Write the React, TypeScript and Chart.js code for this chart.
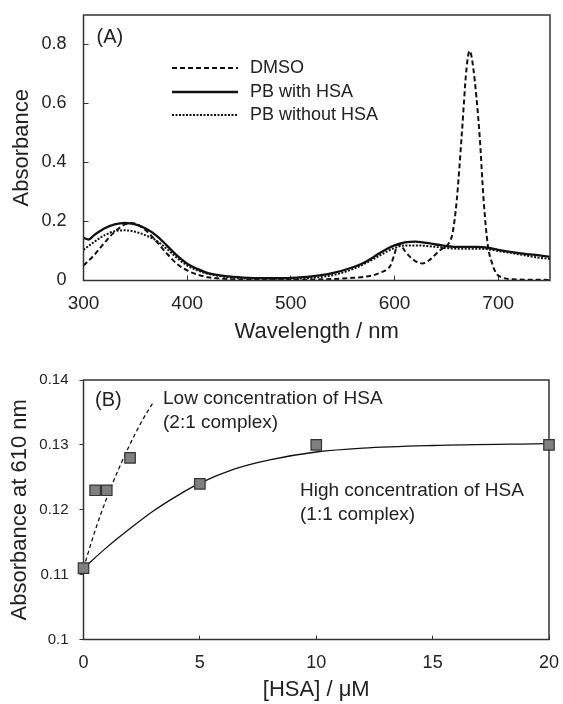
import { useEffect, useRef } from "react";
import { Chart, registerables } from "chart.js";

Chart.register(...registerables);

const FONT = "'Liberation Sans', Arial, Helvetica, sans-serif";
const INK = "#222";
const AXIS = "#333";

// ---------- Panel (A): absorption spectra ----------
const dmsoWavelength = [300, 310, 320, 330, 340, 345, 350, 360, 370, 380, 390, 400, 410, 420, 440, 460, 500, 540, 560, 580, 586, 592, 596, 600, 603, 606, 610, 615, 620, 627, 634, 640, 646, 650, 653, 656, 660, 665, 669.5, 672.5, 676, 682, 686, 690, 694, 698, 704, 714, 750];
const dmsoAbsorbance = [0.051, 0.085, 0.127, 0.165, 0.19, 0.195, 0.193, 0.17, 0.134, 0.093, 0.057, 0.034, 0.02, 0.011, 0.005, 0.002, 0.002, 0.005, 0.009, 0.018, 0.026, 0.036, 0.05, 0.09, 0.122, 0.12, 0.1, 0.08, 0.066, 0.058, 0.07, 0.09, 0.108, 0.116, 0.13, 0.16, 0.27, 0.5, 0.72, 0.778, 0.72, 0.496, 0.271, 0.12, 0.06, 0.025, 0.01, 0.004, 0.002];

const withHsaWavelength = [300, 305, 310, 320, 330, 340, 350, 360, 370, 380, 390, 400, 410, 420, 440, 460, 480, 500, 520, 540, 560, 570, 580, 590, 600, 610, 620, 640, 660, 680, 690, 700, 720, 740, 750];
const withHsaAbsorbance = [0.145, 0.139, 0.153, 0.176, 0.19, 0.195, 0.19, 0.176, 0.153, 0.12, 0.085, 0.057, 0.039, 0.025, 0.014, 0.009, 0.008, 0.009, 0.014, 0.025, 0.045, 0.059, 0.08, 0.102, 0.119, 0.129, 0.132, 0.122, 0.114, 0.114, 0.111, 0.104, 0.093, 0.085, 0.08];

const withoutHsaWavelength = [300, 310, 320, 330, 340, 350, 360, 370, 380, 390, 400, 410, 420, 440, 460, 500, 520, 540, 560, 580, 590, 600, 610, 620, 640, 660, 680, 690, 700, 720, 740, 750];
const withoutHsaAbsorbance = [0.104, 0.13, 0.153, 0.167, 0.17, 0.165, 0.153, 0.136, 0.108, 0.077, 0.051, 0.034, 0.023, 0.011, 0.007, 0.006, 0.009, 0.018, 0.039, 0.073, 0.093, 0.11, 0.119, 0.119, 0.114, 0.108, 0.108, 0.106, 0.1, 0.089, 0.077, 0.073];

const aXTicks = [300, 400, 500, 600, 700];
const aXTickLabels = ["300", "400", "500", "600", "700"];
const aYTicks = [0, 0.2, 0.4, 0.6, 0.8];
const aYTickLabels = ["0", "0.2", "0.4", "0.6", "0.8"];
const aLegendLabels = ["DMSO", "PB with HSA", "PB without HSA"];

// ---------- Panel (B): absorbance at 610 nm vs [HSA] ----------
const hsaConc = [0, 0.5, 1, 2, 5, 10, 20];
const abs610 = [0.111, 0.123, 0.123, 0.128, 0.124, 0.13, 0.13];

const fit11Conc = [0, 1, 2, 3, 4, 5, 6.5, 8, 10, 12, 15, 20];
const fit11Abs = [0.111, 0.1142, 0.1171, 0.1198, 0.1221, 0.1241, 0.1263, 0.1277, 0.1289, 0.1295, 0.1299, 0.1302];

const fit21Conc = [0, 0.5, 1, 1.5, 2, 2.5, 3];
const fit21Abs = [0.111, 0.1168, 0.1218, 0.1262, 0.1301, 0.1336, 0.1366];

const bXTicks = [0, 5, 10, 15, 20];
const bXTickLabels = ["0", "5", "10", "15", "20"];
const bYTicks = [0.1, 0.11, 0.12, 0.13, 0.14];
const bYTickLabels = ["0.1", "0.11", "0.12", "0.13", "0.14"];

const zip = (xs: number[], ys: number[]) => xs.map((x, i) => ({ x, y: ys[i] }));

const boxPlugin = {
  id: "frameBox",
  afterDatasetsDraw(chart: any) {
    const { ctx, chartArea: a } = chart;
    ctx.save();
    ctx.strokeStyle = AXIS;
    ctx.lineWidth = 1.5;
    ctx.setLineDash([]);
    ctx.strokeRect(a.left, a.top, a.right - a.left, a.bottom - a.top);
    ctx.restore();
  },
};

function textPlugin(items: { text: string; x: number; y: number; size: number }[], legend?: { labels: string[]; dashes: number[][]; widths: number[]; x1: number; x2: number; tx: number; ys: number[]; size: number }) {
  return {
    id: "annotText",
    afterDraw(chart: any) {
      const ctx = chart.ctx;
      ctx.save();
      ctx.fillStyle = INK;
      ctx.textAlign = "left";
      ctx.textBaseline = "middle";
      for (const it of items) {
        ctx.font = `${it.size}px ${FONT}`;
        ctx.fillText(it.text, it.x, it.y);
      }
      if (legend) {
        legend.labels.forEach((lab, i) => {
          const y = legend.ys[i];
          ctx.beginPath();
          ctx.strokeStyle = "#111";
          ctx.lineWidth = legend.widths[i];
          ctx.setLineDash(legend.dashes[i]);
          ctx.moveTo(legend.x1, y);
          ctx.lineTo(legend.x2, y);
          ctx.stroke();
          ctx.setLineDash([]);
          ctx.font = `${legend.size}px ${FONT}`;
          ctx.fillText(lab, legend.tx, y);
        });
      }
      ctx.restore();
    },
  };
}

function makeAxis(opts: {
  min: number; max: number; ticks: number[]; labels: string[]; fit: number; horizontal: boolean;
  tickSize: number; tickPad: number; tickLen: number; title: string; titlePad: any;
}) {
  return {
    type: "linear",
    min: opts.min,
    max: opts.max,
    afterBuildTicks: (s: any) => { s.ticks = opts.ticks.map((v) => ({ value: v })); },
    afterFit: (s: any) => {
      if (opts.horizontal) s.height = opts.fit; else s.width = opts.fit;
      s.paddingTop = 0;
      s.paddingBottom = 0;
      s.paddingLeft = 0;
      s.paddingRight = 0;
    },
    ticks: {
      autoSkip: false,
      maxRotation: 0,
      padding: opts.tickPad,
      color: INK,
      font: { family: FONT, size: opts.tickSize },
      callback: (_v: any, i: number) => opts.labels[i],
    },
    grid: { drawOnChartArea: false, drawTicks: true, tickLength: opts.tickLen, color: AXIS, lineWidth: 1 },
    border: { display: false },
    title: { display: true, text: opts.title, color: INK, font: { family: FONT, size: 22 }, padding: opts.titlePad },
  };
}

export default function App() {
  const refA = useRef<HTMLCanvasElement>(null);
  const refB = useRef<HTMLCanvasElement>(null);

  useEffect(() => {
    const chartA = new Chart(refA.current as HTMLCanvasElement, {
      type: "scatter",
      data: {
        datasets: [
          { label: aLegendLabels[0], data: zip(dmsoWavelength, dmsoAbsorbance), showLine: true, borderColor: "#111", borderWidth: 2, borderDash: [5, 3], pointRadius: 0, cubicInterpolationMode: "monotone" },
          { label: aLegendLabels[1], data: zip(withHsaWavelength, withHsaAbsorbance), showLine: true, borderColor: "#111", borderWidth: 2.3, pointRadius: 0, cubicInterpolationMode: "monotone" },
          { label: aLegendLabels[2], data: zip(withoutHsaWavelength, withoutHsaAbsorbance), showLine: true, borderColor: "#111", borderWidth: 2, borderDash: [2, 1.5], pointRadius: 0, cubicInterpolationMode: "monotone" },
        ],
      } as any,
      options: {
        animation: false,
        responsive: false,
        events: [],
        layout: { autoPadding: false, padding: { top: 15, right: 13, bottom: 0, left: 0 } },
        plugins: { legend: { display: false }, tooltip: { enabled: false } },
        scales: {
          x: makeAxis({ min: 300, max: 750, ticks: aXTicks, labels: aXTickLabels, fit: 69.5, horizontal: true, tickSize: 19, tickPad: 16.4, tickLen: -5, title: "Wavelength / nm", titlePad: { top: 0, bottom: 5 } }),
          y: makeAxis({ min: 0, max: 0.9, ticks: aYTicks, labels: aYTickLabels, fit: 83.5, horizontal: false, tickSize: 18, tickPad: 22, tickLen: -5, title: "Absorbance", titlePad: { top: 9, bottom: 0 } }),
        } as any,
      },
      plugins: [
        boxPlugin,
        textPlugin([{ text: "(A)", x: 96.5, y: 37.5, size: 20 }], {
          labels: aLegendLabels,
          dashes: [[5, 3], [], [2, 1.5]],
          widths: [2, 2.5, 2],
          x1: 172,
          x2: 238,
          tx: 250,
          ys: [68, 92, 115],
          size: 18,
        }),
      ],
    });

    const chartB = new Chart(refB.current as HTMLCanvasElement, {
      type: "scatter",
      data: {
        datasets: [
          { label: "data", data: zip(hsaConc, abs610), showLine: false, pointStyle: "rect", pointRadius: 7.4, backgroundColor: "#808080", borderColor: "#333", borderWidth: 1.2, clip: false },
          { label: "1:1", data: zip(fit11Conc, fit11Abs), showLine: true, borderColor: "#111", borderWidth: 1.3, pointRadius: 0, cubicInterpolationMode: "monotone" },
          { label: "2:1", data: zip(fit21Conc, fit21Abs), showLine: true, borderColor: "#111", borderWidth: 1.3, borderDash: [4, 3], pointRadius: 0, cubicInterpolationMode: "monotone" },
        ],
      } as any,
      options: {
        animation: false,
        responsive: false,
        events: [],
        layout: { autoPadding: false, padding: { top: 30, right: 14, bottom: 0, left: 0 } },
        plugins: { legend: { display: false }, tooltip: { enabled: false } },
        scales: {
          x: makeAxis({ min: 0, max: 20, ticks: bXTicks, labels: bXTickLabels, fit: 64.5, horizontal: true, tickSize: 18, tickPad: 17.2, tickLen: -4, title: "[HSA] / μM", titlePad: { top: 0, bottom: 1 } }),
          y: makeAxis({ min: 0.1, max: 0.14, ticks: bYTicks, labels: bYTickLabels, fit: 83.5, horizontal: false, tickSize: 15, tickPad: 11, tickLen: 4, title: "Absorbance at 610 nm", titlePad: { top: 6.5, bottom: 0 } }),
        } as any,
      },
      plugins: [
        {
          id: "frameBoxB",
          beforeDatasetsDraw(chart: any) {
            const { ctx, chartArea: a } = chart;
            ctx.save();
            ctx.strokeStyle = AXIS;
            ctx.lineWidth = 1.5;
            ctx.strokeRect(a.left, a.top, a.right - a.left, a.bottom - a.top);
            ctx.restore();
          },
        },
        textPlugin([
          { text: "(B)", x: 95, y: 50, size: 20 },
          { text: "Low concentration of HSA", x: 163, y: 49, size: 19 },
          { text: "(2:1 complex)", x: 163, y: 73, size: 19 },
          { text: "High concentration of HSA", x: 300, y: 141, size: 19 },
          { text: "(1:1 complex)", x: 300, y: 165, size: 19 },
        ]),
      ],
    });

    return () => {
      chartA.destroy();
      chartB.destroy();
    };
  }, []);

  return (
    <div style={{ position: "absolute", left: 0, top: 0, width: 563, height: 704, background: "#fff" }}>
      <canvas ref={refA} width={563} height={350} style={{ position: "absolute", left: 0, top: 0 }} />
      <canvas ref={refB} width={563} height={354} style={{ position: "absolute", left: 0, top: 350 }} />
    </div>
  );
}
